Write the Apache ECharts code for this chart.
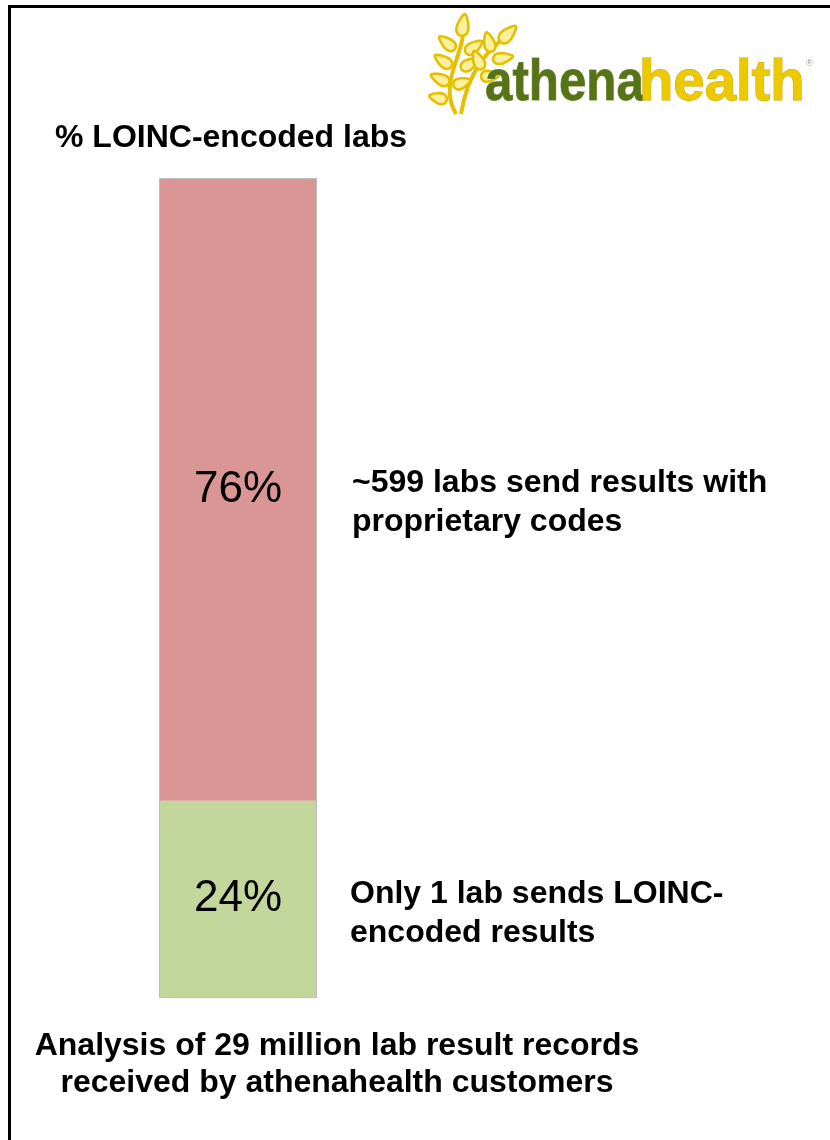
<!DOCTYPE html>
<html>
<head>
<meta charset="utf-8">
<title>% LOINC-encoded labs</title>
<script src="https://cdn.jsdelivr.net/npm/echarts@6/dist/echarts.min.js"></script>
<style>
  html, body { margin: 0; padding: 0; background: #ffffff; }
  #chart { width: 830px; height: 1140px; }
</style>
</head>
<body>
<div id="chart"></div>
<script>
// ---- data ----
const categories = ['Lab results'];
const loincShare = [24];          // % of records LOINC-encoded
const proprietaryShare = [76];    // % of records with proprietary codes
const chartTitle = ['% LOINC-encoded labs'];
const proprietaryNote = ['~599 labs send results with', 'proprietary codes'];
const loincNote = ['Only 1 lab sends LOINC-', 'encoded results'];
const footerLines = ['Analysis of 29 million lab result records', 'received by athenahealth customers'];

// ---- styles ----
const FONT = '"Liberation Sans", Arial, sans-serif';
const RED = '#d99694';
const GREEN = '#c3d69b';
const LEAF_STROKE = '#e4c000';
const LEAF_FILL = '#fbf0a0';

// teardrop-shaped leaf outline for the logo sprig
function leaf(cx, cy, len, wid, angleDeg) {
  const a = angleDeg * Math.PI / 180;
  const pts = [];
  for (let i = 0; i < 28; i++) {
    const t = (i / 28) * Math.PI * 2;
    const lx = (len / 2) * Math.cos(t);
    const ly = (wid / 2) * Math.sin(t) * (1 - 0.45 * Math.cos(t));
    pts.push([cx + lx * Math.cos(a) - ly * Math.sin(a), cy + lx * Math.sin(a) + ly * Math.cos(a)]);
  }
  return {
    type: 'polygon', shape: { points: pts },
    style: { fill: LEAF_FILL, stroke: LEAF_STROKE, lineWidth: 2.6 }
  };
}

const leaves = [
  [463, 25, 22, 11, -80], [447, 43, 20, 10, -140], [474, 47, 20, 10, -35],
  [443, 61, 20, 10, -145], [470, 64, 20, 10, -30], [440, 79, 20, 10, -155],
  [462, 83, 18, 10, -20], [438, 98, 18, 10, -165],
  [508, 34, 22, 11, -45], [489, 42, 20, 10, -105], [503, 58, 20, 10, -10],
  [478, 60, 20, 10, -115], [490, 76, 18, 10, -5]
].map(l => leaf(...l));

function boldLines(lines, x, y0, step, align) {
  return lines.map((s, i) => ({
    type: 'text', x: x, y: y0 + i * step,
    style: {
      text: s, fill: '#000', font: 'bold 32px ' + FONT,
      textAlign: align || 'left', textVerticalAlign: 'middle'
    }
  }));
}

const chart = echarts.init(document.getElementById('chart'), null, { renderer: 'canvas' });

chart.setOption({
  backgroundColor: '#ffffff',
  animation: false,
  grid: { left: 160, width: 156, top: 179, bottom: 143, containLabel: false },
  xAxis: { type: 'category', data: categories, show: false },
  yAxis: { type: 'value', min: 0, max: 100, show: false },
  series: [
    {
      name: 'LOINC-encoded', type: 'bar', stack: 'share', data: loincShare,
      barWidth: '100%',
      showBackground: true,
      backgroundStyle: { color: 'transparent', borderColor: '#bdbdbd', borderWidth: 2 },
      itemStyle: { color: GREEN },
      label: { show: true, position: 'inside', formatter: '{c}%', color: '#000', fontSize: 44, fontFamily: FONT }
    },
    {
      name: 'Proprietary', type: 'bar', stack: 'share', data: proprietaryShare,
      barWidth: '100%',
      itemStyle: { color: RED },
      label: { show: true, position: 'inside', formatter: '{c}%', color: '#000', fontSize: 44, fontFamily: FONT }
    }
  ],
  graphic: [
    // frame
    { type: 'polyline', shape: { points: [[9.5, 1140], [9.5, 6.5], [830, 6.5]] },
      style: { stroke: '#000', lineWidth: 3, fill: null } },
    // logo sprig
    { type: 'bezierCurve', shape: { x1: 456, y1: 114, cpx1: 436, cpy1: 80, cpx2: 470, cpy2: 50, x2: 462, y2: 20 },
      style: { stroke: LEAF_STROKE, lineWidth: 4, fill: null } },
    { type: 'bezierCurve', shape: { x1: 461, y1: 114, cpx1: 468, cpy1: 70, cpx2: 488, cpy2: 50, x2: 510, y2: 33 },
      style: { stroke: LEAF_STROKE, lineWidth: 4, fill: null } },
    ...leaves,
    // logo wordmark
    { type: 'text', x: 485, y: 84, scaleX: 0.85,
      style: { text: 'athena', font: 'bold 58px ' + FONT, fill: '#567318', textVerticalAlign: 'middle',
               stroke: '#7d9640', lineWidth: 1 } },
    { type: 'text', x: 639, y: 84, scaleX: 0.97,
      style: { text: 'health', font: 'bold 58px ' + FONT, fill: '#ecc900', textVerticalAlign: 'middle',
               stroke: '#c9a400', lineWidth: 1 } },
    { type: 'text', x: 806, y: 64,
      style: { text: '®', font: '9px ' + FONT, fill: '#999', textVerticalAlign: 'middle' } },
    // titles and notes
    ...boldLines(chartTitle, 55, 138, 0),
    ...boldLines(proprietaryNote, 352, 483, 39),
    ...boldLines(loincNote, 350, 894, 39),
    ...boldLines(footerLines, 337, 1046, 37, 'center')
  ]
});
</script>
</body>
</html>
